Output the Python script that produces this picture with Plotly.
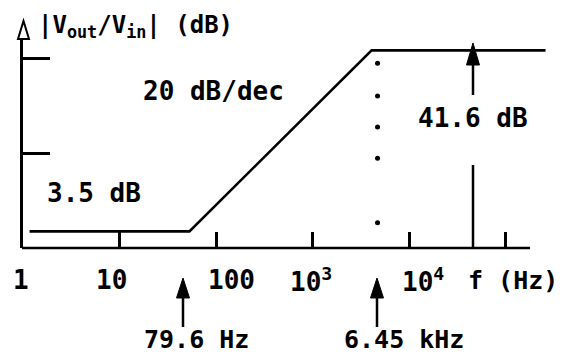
import math
import plotly.graph_objects as go

# ---- data ----
asym_freq = [1.17, 53, 4100, 2.6e5]          # Hz (as drawn)
asym_gain = [3.5, 3.5, 41.6, 41.6]           # dB
dot_freq = [4720, 4720, 4720, 4720, 4720]    # dotted marker line
dot_gain = [38.9, 32.0, 25.5, 18.9, 5.3]
x_tick_vals = [10, 100, 1e3, 1e4, 1e5]
y_tick_vals = [20, 40]
x_label_vals = [1, 10, 100, 1e3, 1e4]
x_label_text = ["1", "10", "100", "10<sup>3</sup>", "10<sup>4</sup>"]

# ---- layout geometry (pixels) ----
W, H = 566, 354
L, R, T, B = 23, 10, 39, 106
PW, PH = W - L - R, H - T - B
PX_DEC = 96.5
PX_DB = 4.75
Y0 = H - B  # pixel row of 0 dB

def xp(px):
    return (px - L) / PW

def yp(py):
    return (Y0 - py) / PH

FONT = dict(family="DejaVu Sans Mono", size=26, color="black", weight="bold")

fig = go.Figure()
fig.add_trace(go.Scatter(x=asym_freq, y=asym_gain, mode="lines",
                         line=dict(color="black", width=2.6), hoverinfo="skip"))
fig.add_trace(go.Scatter(x=dot_freq, y=dot_gain, mode="markers",
                         marker=dict(color="black", size=5), hoverinfo="skip"))

shapes = []
# x axis line
shapes.append(dict(type="line", xref="paper", yref="paper",
                   x0=xp(22), x1=xp(530), y0=0, y1=0,
                   line=dict(color="black", width=2.5)))
# open arrow head on y axis
shapes.append(dict(type="path", xref="paper", yref="paper",
                   path=f"M {xp(18)} {yp(39)} L {xp(23.5)} {yp(21)} L {xp(29)} {yp(39)} Z",
                   line=dict(color="black", width=2), fillcolor="white"))

def arrow_up(x, tip, base, shaft_end, hw=6.5):
    shapes.append(dict(type="path", xref="paper", yref="paper",
                       path=f"M {xp(x-hw)} {yp(base)} L {xp(x)} {yp(tip)} L {xp(x+hw)} {yp(base)} Z",
                       line=dict(color="black", width=1), fillcolor="black"))
    shapes.append(dict(type="line", xref="paper", yref="paper",
                       x0=xp(x), x1=xp(x), y0=yp(base), y1=yp(shaft_end),
                       line=dict(color="black", width=2.5)))

arrow_up(183, 278, 298, 327)
arrow_up(377, 278, 298, 327)
arrow_up(473, 43, 65, 95)
shapes.append(dict(type="line", xref="paper", yref="paper",
                   x0=xp(473), x1=xp(473), y0=yp(165), y1=yp(248),
                   line=dict(color="black", width=2.5)))

ann = []
def text(s, left, cy, size=26):
    f = dict(FONT); f["size"] = size
    ann.append(dict(text=s, xref="paper", yref="paper", x=xp(left), y=yp(cy),
                    xanchor="left", yanchor="middle", showarrow=False, font=f))

text("|V<sub>out</sub>/V<sub>in</sub>| (dB)", 36, 26, 24)
text("20 dB/dec", 141, 91)
text("3.5 dB", 45, 193)
text("41.6 dB", 416, 118)
text("79.6 Hz", 142, 339, 25)
text("6.45 kHz", 342, 339, 25)
text("f (Hz)", 466, 280, 25)

label_shift = [-2, -8, 15, -2, 14]
for v, s, sh in zip(x_label_vals, x_label_text, label_shift):
    ann.append(dict(text=s, xref="x", yref="paper", x=math.log10(v), y=yp(280),
                    xanchor="center", yanchor="middle", xshift=sh, showarrow=False,
                    font=FONT))

fig.update_layout(
    width=W, height=H, margin=dict(l=L, r=R, t=T, b=B),
    paper_bgcolor="white", plot_bgcolor="white", showlegend=False,
    shapes=shapes, annotations=ann,
    xaxis=dict(type="log", range=[0, PW / PX_DEC], showgrid=False, zeroline=False,
               showline=False, ticks="inside", ticklen=16, tickwidth=2.5,
               tickcolor="black", tickvals=x_tick_vals, showticklabels=False),
    yaxis=dict(range=[0, PH / PX_DB], showgrid=False, zeroline=False,
               showline=True, linecolor="black", linewidth=2.5,
               ticks="inside", ticklen=27, tickwidth=2.5, tickcolor="black",
               tickvals=y_tick_vals, showticklabels=False),
)

fig.write_html("out.html", config={"displayModeBar": False},
               post_script="document.body.style.margin='0';document.body.style.overflow='hidden';")
